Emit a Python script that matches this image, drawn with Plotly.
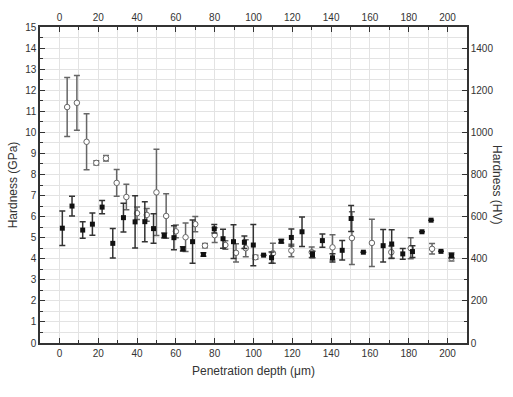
import plotly.graph_objects as go

# Open circles series (x in um, hardness GPa, error GPa)
open_x = [4, 9, 14, 19, 24, 29.5, 34.5, 40, 45, 50, 55, 60, 65, 70, 75, 80, 85.5, 91, 96, 101,
          110, 119.5, 130, 140.7, 150.7, 161, 171, 181, 192, 202]
open_y = [11.2, 11.4, 9.55, 8.55, 8.77, 7.6, 6.93, 6.16, 6.08, 7.15, 6.03, 5.3, 5.02, 5.64, 4.62, 5.12, 4.65, 4.28, 4.5, 4.07,
          4.26, 4.39, 4.31, 4.54, 4.98, 4.75, 4.31, 4.5, 4.47, 4.04]
open_err = [1.4, 1.3, 1.33, 0.1, 0.13, 0.63, 0.6, 0.3, 0.3, 2.05, 1.06, 0.3, 0.68, 0.36, 0.1, 0.35, 0.2, 0.43, 0.4, 0.1,
            0.47, 0.3, 0.25, 0.6, 1.25, 1.12, 0.3, 0.5, 0.25, 0.15]

# Filled squares series
fill_x = [1.5, 6.5, 12, 17, 22, 27.5, 33, 39, 44, 48.5, 54, 59, 63.6, 68.6, 74.2, 79.8, 84.3, 89.7, 95.3, 99.9,
          105.2, 109.3, 114.3, 119.5, 125, 130.4, 135.5, 140.7, 145.7, 150.3, 156.6, 166.8, 171.2, 176.9, 181.9,
          186.8, 191.5, 196.6, 202]
fill_y = [5.45, 6.5, 5.36, 5.64, 6.45, 4.73, 5.95, 5.75, 5.76, 5.43, 5.1, 5.0, 4.47, 4.81, 4.2, 5.42, 4.95, 4.81, 4.78, 4.65,
          4.17, 4.05, 4.83, 5.01, 5.28, 4.2, 4.86, 4.04, 4.4, 5.91, 4.31, 4.62, 4.7, 4.23, 4.34,
          5.28, 5.83, 4.35, 4.15]
fill_err = [0.82, 0.47, 0.39, 0.53, 0.32, 0.7, 0.68, 1.24, 0.95, 0.7, 0.12, 0.57, 0.1, 1.03, 0.08, 0.2, 0.45, 0.8, 0.3, 0.98,
            0, 0.27, 0.08, 0.4, 0.7, 0.15, 0.31, 0.2, 0.46, 0.62, 0, 0.77, 0.68, 0.25, 0.28,
            0, 0, 0, 0.12]

x_ticks = list(range(0, 201, 20))
gpa_ticks = list(range(0, 16))
hv_ticks = list(range(0, 1401, 200))

font = dict(family="Liberation Sans, Arial, sans-serif", size=10, color="#333")
title_font = dict(family=font["family"], size=12, color="#333")
axcol = "#333"
gridcol = "#e3e3e3"

fig = go.Figure()
fig.add_trace(go.Scatter(
    x=open_x, y=open_y, mode="markers",
    marker=dict(symbol="circle", size=5.5, color="white", line=dict(color="#666", width=1)),
    error_y=dict(type="data", array=open_err, color="#666", thickness=1.5, width=3),
    showlegend=False))
fig.add_trace(go.Scatter(
    x=fill_x, y=fill_y, mode="markers",
    marker=dict(symbol="square", size=5, color="#111", line=dict(color="#111", width=0)),
    error_y=dict(type="data", array=fill_err, color="#333", thickness=1.5, width=3),
    showlegend=False))
# invisible trace to activate the secondary axes
fig.add_trace(go.Scatter(x=[0], y=[0], xaxis="x2", yaxis="y2", mode="markers",
                         marker=dict(opacity=0), showlegend=False, hoverinfo="skip"))

fig.update_layout(
    width=513, height=397,
    margin=dict(l=35, r=46, t=24, b=54),
    paper_bgcolor="white", plot_bgcolor="white",
    font=font,
    xaxis=dict(range=[-10, 210], tickvals=x_ticks, ticks="inside", ticklen=5, tickwidth=1.3, tickcolor=axcol,
               showline=True, linecolor=axcol, linewidth=1.5, showgrid=True, gridcolor=gridcol, gridwidth=1,
               zeroline=False, tickfont=font,
               minor=dict(dtick=10, tick0=0, ticks="inside", ticklen=3, tickcolor=axcol, showgrid=True, gridcolor=gridcol),
               title=dict(text="Penetration depth (μm)", font=title_font, standoff=9)),
    yaxis=dict(range=[0, 15], tickvals=gpa_ticks, ticks="inside", ticklen=5, tickwidth=1.3, tickcolor=axcol,
               showline=True, linecolor=axcol, linewidth=1.5, showgrid=True, gridcolor=gridcol, gridwidth=1,
               zeroline=False, tickfont=font,
               minor=dict(dtick=0.5, tick0=0, ticks="inside", ticklen=3, tickcolor=axcol, showgrid=True, gridcolor=gridcol),
               title=dict(text="Hardness (GPa)", font=title_font, standoff=5)),
    xaxis2=dict(range=[-10, 210], overlaying="x", side="top", anchor="y", tickvals=x_ticks, ticks="inside", ticklen=5,
                tickwidth=1.3, tickcolor=axcol, showline=True, linecolor=axcol, linewidth=1.5, showgrid=False,
                zeroline=False, tickfont=font,
                minor=dict(dtick=10, tick0=0, ticks="inside", ticklen=3, tickcolor=axcol)),
    yaxis2=dict(range=[0, 1500], overlaying="y", side="right", anchor="x", tickvals=hv_ticks, ticks="inside", ticklen=5,
                tickwidth=1.3, tickcolor=axcol, showline=True, linecolor=axcol, linewidth=1.5, showgrid=False,
                zeroline=False, tickfont=font,
                minor=dict(dtick=100, tick0=0, ticks="inside", ticklen=3, tickcolor=axcol)),
    annotations=[dict(text="Hardness (HV)", textangle=90, xref="paper", yref="paper", x=1.07, y=0.5,
                      xanchor="center", yanchor="middle", showarrow=False, font=title_font)],
)

fig.write_html("out.html")
